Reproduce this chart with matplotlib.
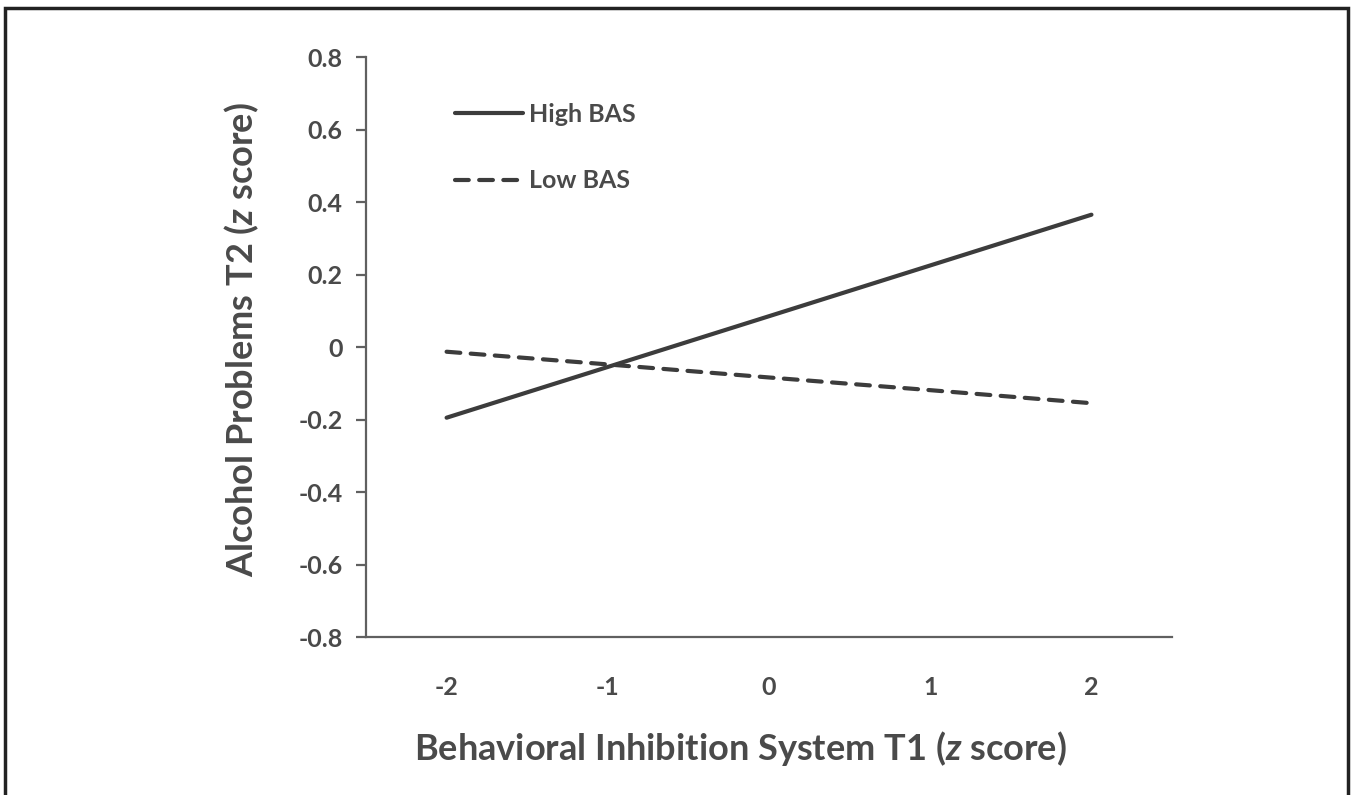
import matplotlib.pyplot as plt
from matplotlib.patches import Rectangle

# data
bis_t1 = [-2, -1, 0, 1, 2]
high_bas = [-0.195, -0.055, 0.085, 0.225, 0.365]
low_bas = [-0.013, -0.048, -0.084, -0.119, -0.155]
y_ticks = [-0.8, -0.6, -0.4, -0.2, 0, 0.2, 0.4, 0.6, 0.8]
y_labels = ['-0.8', '-0.6', '-0.4', '-0.2', '0', '0.2', '0.4', '0.6', '0.8']

line_col = '#3c3c3c'
text_col = '#4a4a4a'
axis_col = '#606060'

plt.rcParams['font.family'] = ['Lato', 'DejaVu Sans']
plt.rcParams['mathtext.fontset'] = 'custom'
plt.rcParams['mathtext.it'] = 'Lato:italic:bold'
plt.rcParams['mathtext.rm'] = 'Lato:bold'

fig = plt.figure(figsize=(13.52, 7.95), dpi=100)
ax = fig.add_axes([0.2707, 0.1987, 0.5962, 0.7296])

ax.plot(bis_t1, high_bas, color=line_col, linewidth=3.0, solid_capstyle='round', label='High BAS')
ax.plot(bis_t1, low_bas, color=line_col, linewidth=3.0, linestyle=(0, (3.3, 2.5)),
        dash_capstyle='round', label='Low BAS')

ax.set_xlim(-2.5, 2.5)
ax.set_ylim(-0.8, 0.8)
ax.set_xticks(bis_t1)
ax.set_xticklabels([str(v) for v in bis_t1])
ax.set_yticks(y_ticks)
ax.set_yticklabels(y_labels)

for side in ['top', 'right']:
    ax.spines[side].set_visible(False)
for side in ['left', 'bottom']:
    ax.spines[side].set_color(axis_col)
    ax.spines[side].set_linewidth(1.6)

ax.tick_params(axis='y', direction='out', length=7, width=1.6, color=axis_col, pad=10,
               labelsize=18, labelcolor=text_col)
ax.tick_params(axis='x', length=0, pad=28, labelsize=18, labelcolor=text_col)
for lab in ax.get_xticklabels() + ax.get_yticklabels():
    lab.set_fontweight('bold')

ax.set_xlabel('Behavioral Inhibition System T1 ($\\it{z}$ score)', fontsize=26, color=text_col,
              fontweight='bold', labelpad=22)
ax.set_ylabel('Alcohol Problems T2 ($\\it{z}$ score)', fontsize=26, color=text_col,
              fontweight='bold', labelpad=27)
ax.xaxis.label.set_x(0.464)
ax.yaxis.label.set_y(0.512)

leg = ax.legend(loc='upper left', bbox_to_anchor=(0.083, 0.96), frameon=False,
                handlelength=2.7, handletextpad=0.25, labelspacing=1.75,
                prop={'size': 18, 'weight': 'bold'})
for t in leg.get_texts():
    t.set_color(text_col)

# outer frame around the figure
fig.patches.append(Rectangle((0.004, -0.05), 0.993, 1.04, transform=fig.transFigure,
                             fill=False, edgecolor='#222222', linewidth=2.5))

fig.savefig('out.png', dpi=100)
